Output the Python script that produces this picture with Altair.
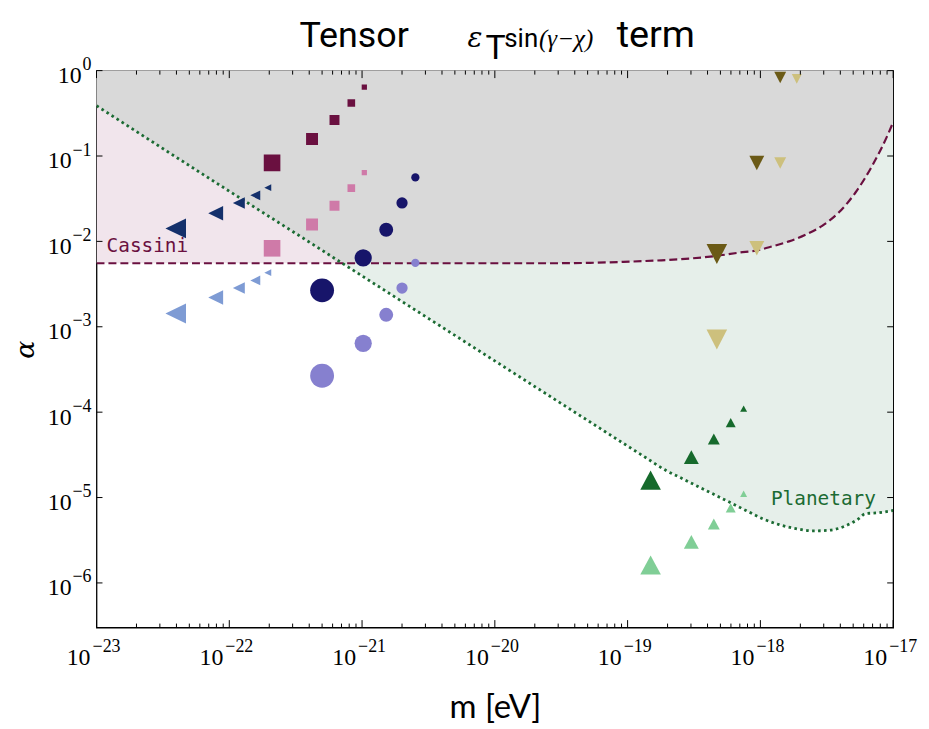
import altair as alt
import pandas as pd

# ---------------- data ----------------
x_tick_exps = [-23, -22, -21, -20, -19, -18, -17]
y_tick_exps = [0, -1, -2, -3, -4, -5, -6]
x_domain = [1e-23, 1e-17]
y_domain = [3.0e-7, 1.0]

# Cassini bound (dashed curve)
cassini_m = [1e-23, 1e-21, 1e-20, 2.94e-20, 5.22e-20, 9.29e-20, 1.65e-19, 2.93e-19,
             4.64e-19, 6.94e-19, 9.25e-19, 1.234e-18, 1.643e-18, 2.19e-18, 2.92e-18,
             3.89e-18, 5.19e-18, 6.92e-18, 9.22e-18, 1e-17]
cassini_a = [5.55e-3, 5.55e-3, 5.55e-3, 5.55e-3, 5.61e-3, 5.76e-3, 5.97e-3, 6.29e-3,
             6.76e-3, 7.39e-3, 7.79e-3, 8.75e-3, 1.00e-2, 1.196e-2, 1.523e-2,
             2.174e-2, 3.713e-2, 7.59e-2, 0.185, 0.2485]

# Planetary bound (dotted curve)
planet_m = [1e-23, 1e-22, 3e-22, 5e-22, 1e-21, 1e-20, 1e-19, 1.388e-19, 1.96e-19,
            2.464e-19, 3.29e-19, 4.385e-19, 5.84e-19, 7.78e-19, 1.039e-18, 1.383e-18,
            1.845e-18, 2.46e-18, 3.276e-18, 4.37e-18, 5.5e-18, 6.17e-18, 7.76e-18, 1e-17]
planet_a = [0.388, 0.0387, 0.01307, 7.86e-3, 3.94e-3, 3.98e-4, 4.01e-5, 2.894e-5, 2.06e-5,
            1.727e-5, 1.378e-5, 1.104e-5, 8.84e-6, 7.06e-6, 5.65e-6, 4.815e-6,
            4.325e-6, 4.07e-6, 4.13e-6, 4.65e-6, 5.65e-6, 6.46e-6, 6.64e-6, 7.06e-6]

# where the two bounds cross
cross_m, cross_a = 7.0e-22, 5.55e-3

# marker series
sq_m = [2.1e-22, 4.2e-22, 6.2e-22, 8.3e-22, 1.04e-21]
sq_dark_a = [0.083, 0.158, 0.264, 0.418, 0.641]
sq_light_a = [0.0083, 0.0158, 0.0262, 0.042, 0.064]

tl_m = [3.95e-23, 7.9e-23, 1.18e-22, 1.57e-22, 1.95e-22]
tl_dark_a = [0.0142, 0.0214, 0.0282, 0.0346, 0.0425]
tl_light_a = [1.43e-3, 2.2e-3, 2.84e-3, 3.49e-3, 4.3e-3]

ci_m = [5.0e-22, 1.02e-21, 1.52e-21, 2.0e-21, 2.52e-21]
ci_dark_a = [2.67e-3, 6.4e-3, 0.0137, 0.0282, 0.0561]
ci_light_a = [2.67e-4, 6.4e-4, 1.38e-3, 2.84e-3, 5.6e-3]

td_m = [4.7e-19, 9.4e-19, 1.41e-18, 1.88e-18]
td_dark_a = [7.1e-3, 0.083, 0.83]
td_light_a = [7.1e-4, 8.3e-3, 0.083, 0.80]

tu_m = [1.49e-19, 3.02e-19, 4.46e-19, 5.98e-19, 7.48e-19]
tu_dark_a = [1.6e-5, 2.97e-5, 4.85e-5, 7.53e-5, 1.1e-4]
tu_light_a = [1.62e-6, 3.03e-6, 4.9e-6, 7.58e-6, 1.11e-5]

# ---------------- styles ----------------
W, H = 801, 560
MAROON = "#6a1040"
PINK = "#cf7aa8"
NAVY_T = "#14306b"
BLUE_T = "#7e9bd4"
NAVY_C = "#17156a"
LILAC_C = "#8680cf"
OLIVE_D = "#6b5a16"
OLIVE_L = "#cdc07d"
GREEN_D = "#166a2c"
GREEN_L = "#80ce96"
LINE_GREEN = "#1b6b33"
FILL_PINK = "#f1e5ec"
FILL_GREEN = "#e6efea"
FILL_GRAY = "#d9d9d9"

TRI_LEFT = "M-1,0L1,-0.97L1,0.97Z"
TRI_UP = "M0,-0.93L1,0.93L-1,0.93Z"
TRI_DOWN = "M0,0.97L-1,-0.97L1,-0.97Z"
tri_sizes = [428, 225, 144, 100, 49]
sq_sizes = [279, 144, 100, 59, 28]
ci_sizes = [576, 300, 196, 128, 69]

rows = []
def add(ms, As, shape, color, sizes):
    for i, (m, a) in enumerate(zip(ms, As)):
        rows.append(dict(m=m, a=a, shape=shape, color=color, sz=sizes[i]))

add(sq_m, sq_dark_a, "square", MAROON, sq_sizes)
add(sq_m, sq_light_a, "square", PINK, sq_sizes)
add(tl_m, tl_dark_a, TRI_LEFT, NAVY_T, tri_sizes)
add(tl_m, tl_light_a, TRI_LEFT, BLUE_T, tri_sizes)
add(ci_m, ci_dark_a, "circle", NAVY_C, ci_sizes)
add(ci_m, ci_light_a, "circle", LILAC_C, ci_sizes)
add(td_m, td_dark_a, TRI_DOWN, OLIVE_D, tri_sizes)
add(td_m, td_light_a, TRI_DOWN, OLIVE_L, tri_sizes)
add(tu_m, tu_dark_a, TRI_UP, GREEN_D, tri_sizes)
add(tu_m, tu_light_a, TRI_UP, GREEN_L, tri_sizes)
pts = pd.DataFrame(rows)

cas = pd.DataFrame({"m": cassini_m, "a": cassini_a})
pla = pd.DataFrame({"m": planet_m, "a": planet_a})
env = pd.concat([
    pla[pla.m < cross_m],
    pd.DataFrame({"m": [cross_m], "a": [cross_a]}),
    cas[cas.m > cross_m],
], ignore_index=True)

x_axis = alt.Axis(values=[10.0 ** e for e in x_tick_exps], labels=False,
                  ticks=False, domain=False, grid=False,
                  title="m [eV]", titleFont="Lato", titleFontSize=33,
                  titleFontWeight="normal", titleColor="black", titleY=90,
                  titleBaseline="alphabetic")
y_axis = alt.Axis(values=[10.0 ** e for e in y_tick_exps], labels=False,
                  ticks=False, domain=False, grid=False,
                  title="α", titleFont="DejaVu Serif",
                  titleFontStyle="italic", titleFontSize=27, titleFontWeight="normal",
                  titleColor="black", titleX=-63, titleY=H / 2, titleAngle=270,
                  titleBaseline="alphabetic", titleAlign="center")

xs = alt.Scale(type="log", domain=x_domain, nice=False)
ys = alt.Scale(type="log", domain=y_domain, nice=False)
X = alt.X("m:Q", scale=xs, axis=x_axis)
Y = alt.Y("a:Q", scale=ys, axis=y_axis)

TOP = alt.datum(y_domain[1])
pink = alt.Chart(cas).mark_area(color=FILL_PINK, opacity=1, clip=True,
                                interpolate="monotone").encode(x=X, y=Y, y2=TOP)
green = alt.Chart(pla).mark_area(color=FILL_GREEN, opacity=1, clip=True,
                                 interpolate="monotone").encode(x=X, y=Y, y2=TOP)
gray = alt.Chart(env).mark_area(color=FILL_GRAY, opacity=1, clip=True,
                                interpolate="monotone").encode(x=X, y=Y, y2=TOP)
cas_line = alt.Chart(cas).mark_line(color=MAROON, strokeWidth=2.2, strokeDash=[8, 4],
                                    clip=True, interpolate="monotone").encode(x=X, y=Y)
pla_line = alt.Chart(pla).mark_line(color=LINE_GREEN, strokeWidth=2.8, strokeDash=[2.6, 3.4],
                                    clip=True, interpolate="monotone").encode(x=X, y=Y)
points = alt.Chart(pts).mark_point(filled=True, opacity=1, strokeWidth=0, clip=True).encode(
    x=X, y=Y,
    shape=alt.Shape("shape:N", scale=None),
    color=alt.Color("color:N", scale=None),
    size=alt.Size("sz:Q", scale=None))

cas_lab = alt.Chart(pd.DataFrame({"m": [1.19e-23], "a": [7.45e-3], "t": ["Cassini"]})).mark_text(
    align="left", baseline="alphabetic", font="DejaVu Sans Mono", fontSize=19.5,
    color=MAROON).encode(x=X, y=Y, text="t:N")
pla_lab = alt.Chart(pd.DataFrame({"m": [1.2e-18], "a": [8.22e-6], "t": ["Planetary"]})).mark_text(
    align="left", baseline="alphabetic", font="DejaVu Sans Mono", fontSize=19.5,
    color=LINE_GREEN).encode(x=X, y=Y, text="t:N")

# frame ticks (inward)
xmaj = pd.DataFrame({"m": [10.0 ** e for e in x_tick_exps]})
xmin = pd.DataFrame({"m": [k * 10.0 ** e for e in x_tick_exps[:-1] for k in range(2, 10)]})
ymaj = pd.DataFrame({"a": [10.0 ** e for e in y_tick_exps]})
tk = dict(color="black", strokeWidth=1)
ticks = [
    alt.Chart(xmaj).mark_rule(**tk).encode(x=X, y=alt.value(H), y2=alt.value(H - 7.5)),
    alt.Chart(xmaj).mark_rule(**tk).encode(x=X, y=alt.value(0), y2=alt.value(7.5)),
    alt.Chart(xmin).mark_rule(**tk).encode(x=X, y=alt.value(H), y2=alt.value(H - 4)),
    alt.Chart(xmin).mark_rule(**tk).encode(x=X, y=alt.value(0), y2=alt.value(4)),
    alt.Chart(ymaj).mark_rule(**tk).encode(y=Y, x=alt.value(0), x2=alt.value(6)),
    alt.Chart(ymaj).mark_rule(**tk).encode(y=Y, x=alt.value(W), x2=alt.value(W - 6)),
]

# tick labels: "10" with a raised exponent
LBL_FONT = "Liberation Serif"
BASE_FS, EXP_FS = 24, 18
xl = pd.DataFrame({"m": [10.0 ** e for e in x_tick_exps],
                   "b": ["10"] * len(x_tick_exps),
                   "e": [str(e).replace("-", "−") for e in x_tick_exps]})
yl = pd.DataFrame({"a": [10.0 ** e for e in y_tick_exps],
                   "b": ["10"] * len(y_tick_exps),
                   "e": [str(e).replace("-", "−") for e in y_tick_exps]})
lt = dict(baseline="alphabetic", font=LBL_FONT, color="black")
labels = [
    alt.Chart(xl).mark_text(align="right", dx=-6, fontSize=BASE_FS, **lt).encode(
        x=X, y=alt.value(H + 38), text="b:N"),
    alt.Chart(xl).mark_text(align="left", dx=-4, fontSize=EXP_FS, **lt).encode(
        x=X, y=alt.value(H + 25), text="e:N"),
    alt.Chart(yl).mark_text(align="right", dx=-5, dy=-0.5, fontSize=EXP_FS, **lt).encode(
        y=Y, x=alt.value(0), text="e:N"),
    alt.Chart(yl[yl.a == 1.0]).mark_text(align="right", dx=-15, dy=12.5, fontSize=BASE_FS,
                                          **lt).encode(y=Y, x=alt.value(0), text="b:N"),
    alt.Chart(yl[yl.a < 1.0]).mark_text(align="right", dx=-25, dy=12.5, fontSize=BASE_FS,
                                         **lt).encode(y=Y, x=alt.value(0), text="b:N"),
]

# title pieces
def ttext(t, x, y, font, size, style="normal"):
    return alt.Chart(pd.DataFrame({"t": [t]})).mark_text(
        align="left", baseline="alphabetic", font=font, fontSize=size, fontStyle=style,
        color="black").encode(x=alt.value(x), y=alt.value(y), text="t:N")

titles = [
    ttext("Tensor", 204, -24, "Roboto", 36),
    ttext("ε", 373, -24, "DejaVu Serif", 28, "italic"),
    ttext("T", 391, -12, "Roboto", 34),
    ttext("sin", 410, -24, "Roboto", 26),
    ttext("(γ−χ)", 445, -24, "Liberation Serif", 25, "italic"),
    ttext("term", 523, -24, "Roboto", 38),
]

chart = alt.layer(pink, green, gray, cas_line, pla_line, points, cas_lab, pla_lab,
                  *ticks, *labels, *titles).properties(
    width=W, height=H,
    autosize=alt.AutoSizeParams(type="none"),
    padding={"left": 89, "top": 61, "right": 28, "bottom": 96},
    background="white",
).configure_view(stroke="black", strokeWidth=1.3)

chart.save("out.html", embed_options={"renderer": "svg", "actions": False})
